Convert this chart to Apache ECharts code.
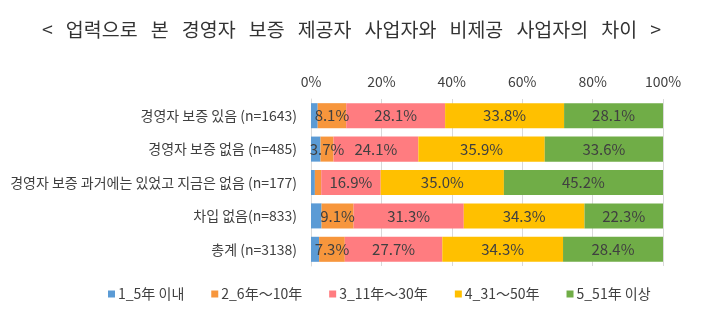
<!DOCTYPE html>
<html>
<head>
<meta charset="utf-8">
<script src="https://cdn.jsdelivr.net/npm/echarts@6/dist/echarts.min.js"></script>
<style>
  html, body { margin: 0; padding: 0; background: #fff; }
  #chart { width: 703px; height: 322px; }
</style>
</head>
<body>
<div id="chart"></div>
<script>
// Categories, top to bottom
const categories = [
  '경영자 보증 있음 (n=1643)',
  '경영자 보증 없음 (n=485)',
  '경영자 보증 과거에는 있었고 지금은 없음 (n=177)',
  '차입 없음(n=833)',
  '총계 (n=3138)'
];

// Share of businesses by years in operation (%)
const seriesNames = ['1_5年 이내', '2_6年～10年', '3_11年～30年', '4_31～50年', '5_51年 이상'];
const upTo5 = [1.9, 2.7, 1.1, 3.0, 2.3];
const y6to10 = [8.1, 3.7, 1.8, 9.1, 7.3];
const y11to30 = [28.1, 24.1, 16.9, 31.3, 27.7];
const y31to50 = [33.8, 35.9, 35.0, 34.3, 34.3];
const over51 = [28.1, 33.6, 45.2, 22.3, 28.4];

const xTicks = [0, 20, 40, 60, 80, 100];

const colors = ['#5B9BD5', '#F7963C', '#FF7C80', '#FFC000', '#70AD47'];
const values = [upTo5, y6to10, y11to30, y31to50, over51];
const font = '"Noto Sans CJK KR", "Noto Sans", sans-serif';

const chart = echarts.init(document.getElementById('chart'), null, { renderer: 'canvas' });

const series = values.map((vals, i) => ({
  name: seriesNames[i],
  type: 'bar',
  stack: 'total',
  barCategoryGap: '25%',
  data: vals,
  itemStyle: { color: colors[i] },
  label: {
    show: i > 0,
    position: 'inside',
    color: '#404040',
    fontFamily: font,
    fontSize: 15,
    formatter: p => (p.value < 2 ? '' : p.value.toFixed(1) + '%')
  }
}));

chart.setOption({
  animation: false,
  backgroundColor: '#fff',
  title: {
    text: '<   업력으로   본   경영자   보증   제공자   사업자와   비제공   사업자의   차이   >',
    left: 'center',
    top: 15,
    textStyle: { fontFamily: font, fontSize: 19.5, fontWeight: 'normal', color: '#333' }
  },
  legend: {
    bottom: 16,
    left: 103,
    itemWidth: 7,
    itemHeight: 7,
    itemGap: 27,
    icon: 'rect',
    textStyle: { fontFamily: font, fontSize: 14, color: '#404040', padding: [0, 0, 0, -2] },
    data: seriesNames
  },
  grid: { left: 311, right: 40, top: 99, bottom: 56 },
  xAxis: {
    type: 'value',
    position: 'top',
    min: xTicks[0],
    max: xTicks[xTicks.length - 1],
    interval: 20,
    axisLine: { show: false },
    axisTick: { show: false },
    axisLabel: {
      formatter: v => v + '%',
      fontFamily: font,
      fontSize: 14,
      color: '#404040',
      margin: 10
    },
    splitLine: { show: true, lineStyle: { color: '#D9D9D9', width: 1 } }
  },
  yAxis: {
    type: 'category',
    inverse: true,
    data: categories,
    axisLine: { show: true, lineStyle: { color: '#D9D9D9' } },
    axisTick: { show: false },
    axisLabel: { fontFamily: font, fontSize: 14, color: '#404040', margin: 14 }
  },
  series: series
});
</script>
</body>
</html>
